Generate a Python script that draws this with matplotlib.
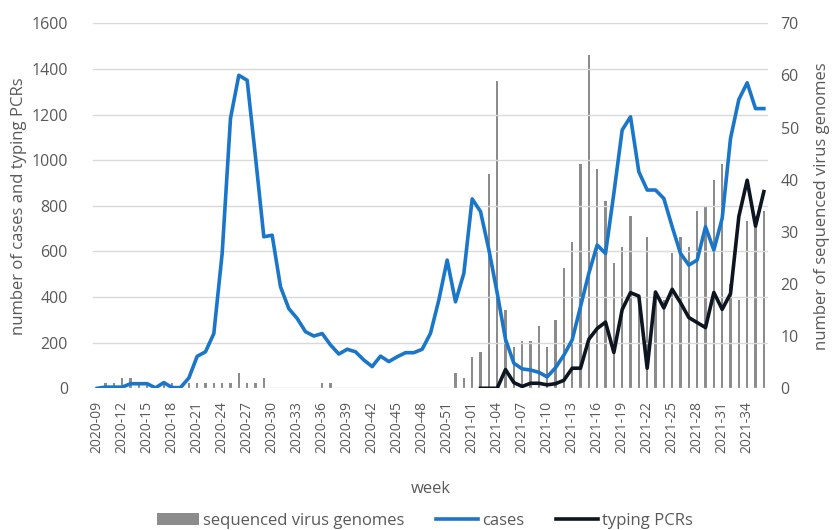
import numpy as np
import matplotlib
matplotlib.use("Agg")
import matplotlib.pyplot as plt

# weekly data, 2020-09 .. 2021-36
weeks = [f"2020-{w:02d}" for w in range(9, 54)] + [f"2021-{w:02d}" for w in range(1, 37)]

cases = [0, 5, 5, 5, 20, 20, 20, 2, 25, 3, 3, 45, 140, 160, 240,
         591, 1183, 1372, 1350, 1014, 664, 671, 445, 349, 306, 248, 229, 240, 190, 150,
         171, 160, 124, 95, 141, 117, 138, 156, 156, 171, 241, 387, 562, 379, 504,
         830, 775, 608, 418, 215, 110, 85, 80, 70, 50, 90, 145, 212, 358, 504,
         628, 591, 854, 1132, 1190, 949, 869, 869, 832, 708, 591, 540, 562, 708, 606,
         745, 1095, 1266, 1339, 1226, 1226]

typing_pcrs = [np.nan] * 46 + [0, 0, 0, 82, 25, 8, 22, 22, 15, 20, 35, 88, 88, 215,
                               262, 290, 157, 345, 419, 404, 88, 422, 352, 434, 375, 310, 288, 266, 420,
                               346, 415, 753, 912, 711, 862]

genomes = [0, 1, 1, 2, 2, 1, 1, 0, 1, 1, 0, 1, 1, 1, 1, 1, 1, 3, 1, 1, 2,
           0, 0, 0, 0, 0, 0, 1, 1, 0, 0, 0, 0, 0, 0, 0, 0, 0, 0, 0, 0, 0, 0,
           3, 2, 6, 7, 41, 59, 15, 8, 9, 9, 12, 8, 13, 23, 28, 43, 64,
           42, 36, 24, 27, 33, 17, 29, 18, 17, 26, 29, 27, 34, 35, 40, 43,
           20, 17, 32, 33, 34]

x = np.arange(len(weeks))
txt = "#595959"
plt.rcParams['font.family'] = ['Open Sans', 'DejaVu Sans']

fig = plt.figure(figsize=(8.4, 5.3), dpi=100)
ax = fig.add_axes([0.1107, 0.2674, 0.8036, 0.6887])
ax2 = ax.twinx()

bars = ax2.bar(x, genomes, width=0.3, color="#8c8c8c", label="sequenced virus genomes")
l1, = ax.plot(x, cases, color="#1a76c9", lw=2.6, label="cases")
l2, = ax.plot(x, typing_pcrs, color="#0c1520", lw=2.6, label="typing PCRs")

ax.set_zorder(ax2.get_zorder() + 1)
ax.patch.set_visible(False)

ax.set_xlim(-0.5, len(weeks) - 0.5)
ax.set_ylim(0, 1600)
ax.set_yticks(range(0, 1601, 200))
ax2.set_ylim(0, 70)
ax2.set_yticks(range(0, 71, 10))
ax.yaxis.grid(True, color="#d9d9d9", lw=1)

ax.set_xticks(x[::3])
ax.set_xticklabels(weeks[::3], rotation=90, fontsize=10, color=txt)
for a in (ax, ax2):
    for s in a.spines.values():
        s.set_visible(False)
    a.tick_params(length=0, labelcolor=txt)
    a.tick_params(axis='y', labelsize=11.5)
ax.tick_params(axis='y', pad=18)
ax2.tick_params(axis='y', pad=9)
ax.tick_params(axis='x', pad=9)

ax.set_ylabel("number of cases and typing PCRs", fontsize=12, color=txt, labelpad=3)
ax2.set_ylabel("number of sequenced virus genomes", fontsize=12, color=txt, labelpad=11)
ax.set_xlabel("week", fontsize=12, color=txt, labelpad=20)

fig.legend([bars, l1, l2], ["sequenced virus genomes", "cases", "typing PCRs"],
           loc="lower center", bbox_to_anchor=(0.506, -0.026), ncol=3, frameon=False,
           fontsize=12, labelcolor=txt, handlelength=2.5, columnspacing=1.9, handletextpad=0.25)

fig.savefig("out.png", dpi=100)
